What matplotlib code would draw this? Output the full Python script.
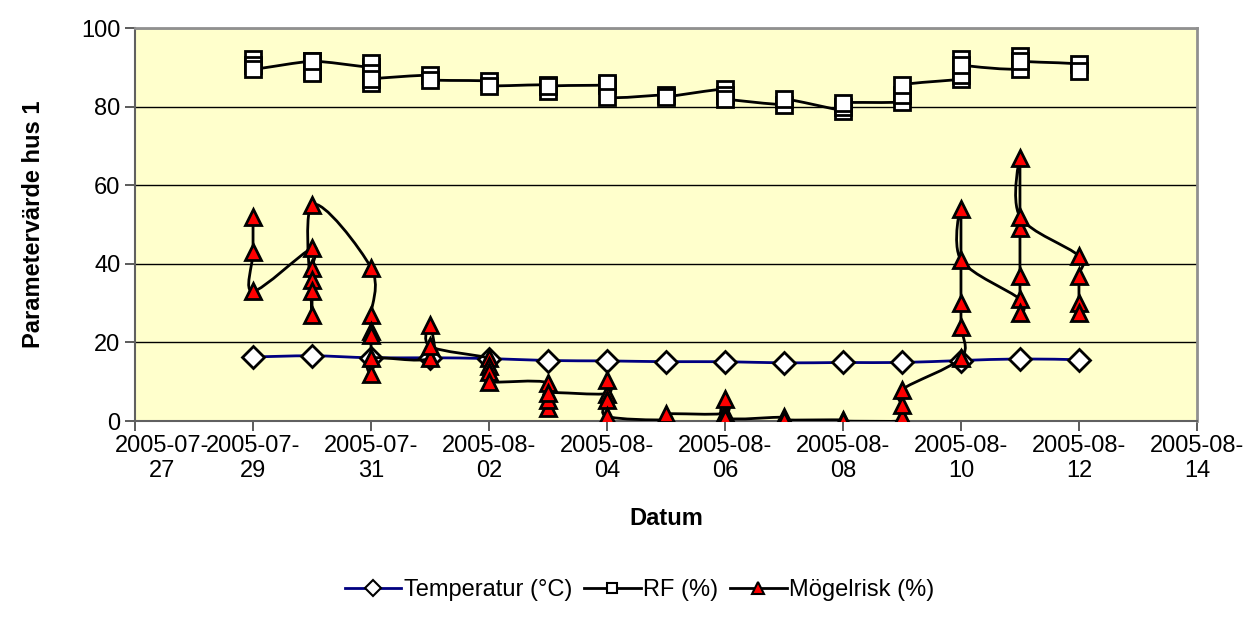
import numpy as np
import matplotlib
matplotlib.use("Agg")
import matplotlib.pyplot as plt
import matplotlib.dates as mdates
from matplotlib.path import Path
from matplotlib.patches import PathPatch
from matplotlib.lines import Line2D
from matplotlib.transforms import ScaledTranslation

plt.rcParams['font.family'] = ['Liberation Sans', 'DejaVu Sans']

# ------------------------------------------------------------------
# data (several readings per day, all plotted on the date)
# ------------------------------------------------------------------
days = ['2005-07-29', '2005-07-30', '2005-07-31', '2005-08-01', '2005-08-02',
        '2005-08-03', '2005-08-04', '2005-08-05', '2005-08-06', '2005-08-07',
        '2005-08-08', '2005-08-09', '2005-08-10', '2005-08-11', '2005-08-12']

temp_vals = [[16.3], [16.6], [16.1], [16.1], [15.9], [15.4], [15.3], [15.1],
             [15.1], [14.8], [14.9], [14.9], [15.4], [15.8], [15.6]]

rf_vals = [[92, 90.5, 89.5],
           [91.5, 89, 88.5, 91.5],
           [90, 91, 88.5, 86, 87],
           [88, 86.8],
           [86.5, 85.3],
           [85.5, 84, 85.2],
           [85.5, 86, 82.4],
           [83, 82.5],
           [84.5, 83, 82],
           [80.5, 82],
           [79, 80, 81],
           [81.2, 83, 85.5],
           [87, 88, 92, 90.6],
           [89.6, 93, 91.6],
           [90.8, 89]]

mogel_vals = [[52, 43, 33],
              [44, 39, 36, 33, 27, 55],
              [39, 27, 23, 22, 12, 16],
              [16, 24.5, 19],
              [16, 14, 12.5, 10],
              [9.7, 3.3, 5.3, 7.2],
              [7, 10.4, 5.3, 1.2],
              [0.3, 1.8],
              [2, 5.6, 0.8],
              [1, 0.3],
              [0.3, 0],
              [0, 1, 4, 8],
              [16, 24, 30, 54, 41],
              [31, 27.5, 37, 49, 67, 52],
              [42, 37, 30, 27.5]]

series_names = ['Temperatur (°C)', 'RF (%)', 'Mögelrisk (%)']


def expand(per_day):
    xs, ys = [], []
    for d, vals in zip(days, per_day):
        for v in vals:
            xs.append(mdates.datestr2num(d))
            ys.append(v)
    return np.array(xs), np.array(ys)


def smooth_path(x, y):
    # Excel style smoothed line: cubic bezier through the points
    P = np.column_stack([x, y])
    n = len(P)
    verts, codes = [P[0]], [Path.MOVETO]
    for i in range(n - 1):
        p0 = P[i - 1] if i > 0 else P[i]
        p3 = P[i + 2] if i + 2 < n else P[i + 1]
        verts += [P[i] + (P[i + 1] - p0) / 6, P[i + 1] - (p3 - P[i]) / 6, P[i + 1]]
        codes += [Path.CURVE4] * 3
    return Path(verts, codes)


fig = plt.figure(figsize=(12.54, 6.21), dpi=100)
ax = fig.add_axes([0.1077, 0.322, 0.8468, 0.6329])
ax.set_facecolor('#FFFFCC')

styles = [
    dict(data=temp_vals, lc='#000080', marker='D', mfc='white', ms=11),
    dict(data=rf_vals, lc='black', marker='s', mfc='white', ms=11),
    dict(data=mogel_vals, lc='black', marker='^', mfc='#FF0000', ms=12),
]

handles = []
for k, st in enumerate(styles):
    x, y = expand(st['data'])
    ax.add_patch(PathPatch(smooth_path(x, y), fill=False, edgecolor=st['lc'],
                           lw=2, zorder=3 + 2 * k))
    ax.plot(x, y, ls='none', marker=st['marker'], mfc=st['mfc'], mec='black',
            mew=2, ms=st['ms'], zorder=4 + 2 * k)
    handles.append(Line2D([], [], color=st['lc'], lw=2, marker=st['marker'],
                          mfc=st['mfc'], mec='black', mew=1.5, ms=st['ms'] * 0.7))

ax.set_xlim(mdates.datestr2num('2005-07-27'), mdates.datestr2num('2005-08-14'))
ax.set_ylim(0, 100)
ax.xaxis.set_major_formatter(mdates.DateFormatter('%Y-%m-\n%d'))
ax.set_xticks([mdates.datestr2num(d) for d in
               ['2005-07-27', '2005-07-29', '2005-07-31', '2005-08-02', '2005-08-04',
                '2005-08-06', '2005-08-08', '2005-08-10', '2005-08-12', '2005-08-14']])
ax.set_yticks(np.arange(0, 101, 20))
ax.yaxis.grid(True, color='black', lw=1)
ax.set_axisbelow(True)
ax.tick_params(axis='both', labelsize=17, length=7, width=1.2, color='#404040')
ax.tick_params(axis='x', pad=3)
for side in ['top', 'right']:
    ax.spines[side].set_color('#909090')
    ax.spines[side].set_linewidth(2)
for side in ['left', 'bottom']:
    ax.spines[side].set_color('#606060')
    ax.spines[side].set_linewidth(1.5)

# first date label is pushed right, as in the original
first = ax.xaxis.get_major_ticks()[0].label1
first.set_transform(first.get_transform() + ScaledTranslation(0.27, 0, fig.dpi_scale_trans))

ax.set_xlabel('Datum', fontsize=17, fontweight='bold', labelpad=18)
ax.set_ylabel('Parametervärde hus 1', fontsize=17, fontweight='bold', labelpad=26)

fig.legend(handles, series_names, loc='center', bbox_to_anchor=(0.51, 0.05),
           ncol=3, frameon=False, fontsize=17, handlelength=2.4,
           handletextpad=0.1, columnspacing=0.5)

fig.savefig('out.png', dpi=100)
